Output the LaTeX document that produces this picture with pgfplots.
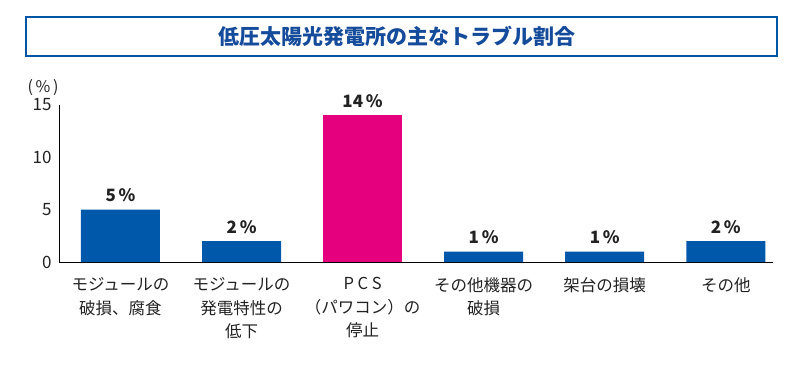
\documentclass[border=0pt]{standalone}
\usepackage{fontspec}
\setmainfont{Noto Sans CJK JP}
\usepackage{pgfplots}
\pgfplotsset{compat=1.18}
\definecolor{barblue}{RGB}{0,88,170}
\definecolor{barpink}{RGB}{229,0,126}
\definecolor{titleblue}{RGB}{20,75,155}
\definecolor{framblue}{RGB}{0,85,165}
\definecolor{txt}{RGB}{34,34,34}
\begin{document}
\begin{tikzpicture}[x=1pt,y=1pt]
\path[use as bounding box] (0,0) rectangle (800,373);
\draw[framblue, line width=1.8pt, fill=white] (26,317) rectangle (777,356);
\node[text=titleblue, font=\fontsize{21}{24}\bfseries\selectfont] at (397,336.5) {低圧太陽光発電所の主なトラブル割合};
\begin{axis}[
  at={(59pt,111pt)}, anchor=south west,
  scale only axis, width=714pt, height=157pt,
  xmin=-0.508, xmax=5.39, ymin=0, ymax=15,
  axis x line*=bottom, axis y line*=left,
  axis line style={-, black, line width=0.8pt},
  ytick={0,5,10,15},
  xtick={0,1,2,3,4,5},
  xticklabels={{モジュールの\\破損、腐食},{モジュールの\\発電特性の\\低下},{P C S\\（パワコン）の\\停止},{その他機器の\\破損},{架台の損壊},{その他}},
  major tick length=0pt,
  /pgf/number format/assume math mode=true,
  yticklabel style={font=\fontsize{17}{19}\selectfont, text=txt, xshift=-4pt},
  xticklabel style={align=center, font=\fontsize{16.5}{23.5}\selectfont, text=txt, yshift=-12pt},
  ybar, bar width=79pt,
  nodes near coords={\pgfmathprintnumber{\pgfplotspointmeta}\,\%},
  every node near coord/.append style={font=\fontsize{17}{20}\bfseries\selectfont, text=txt, yshift=4pt},
  clip=false,
]
\addplot[fill=barblue, draw=none, bar shift=0pt] coordinates {(0,5) (1,2) (3,1) (4,1) (5,2)};
\addplot[fill=barpink, draw=none, bar shift=0pt] coordinates {(2,14)};
\node[font=\fontsize{16}{18}\selectfont, text=txt] at ([xshift=-16pt,yshift=17pt]rel axis cs:0,1) {(\,\%\,)};
\end{axis}
\end{tikzpicture}
\end{document}
